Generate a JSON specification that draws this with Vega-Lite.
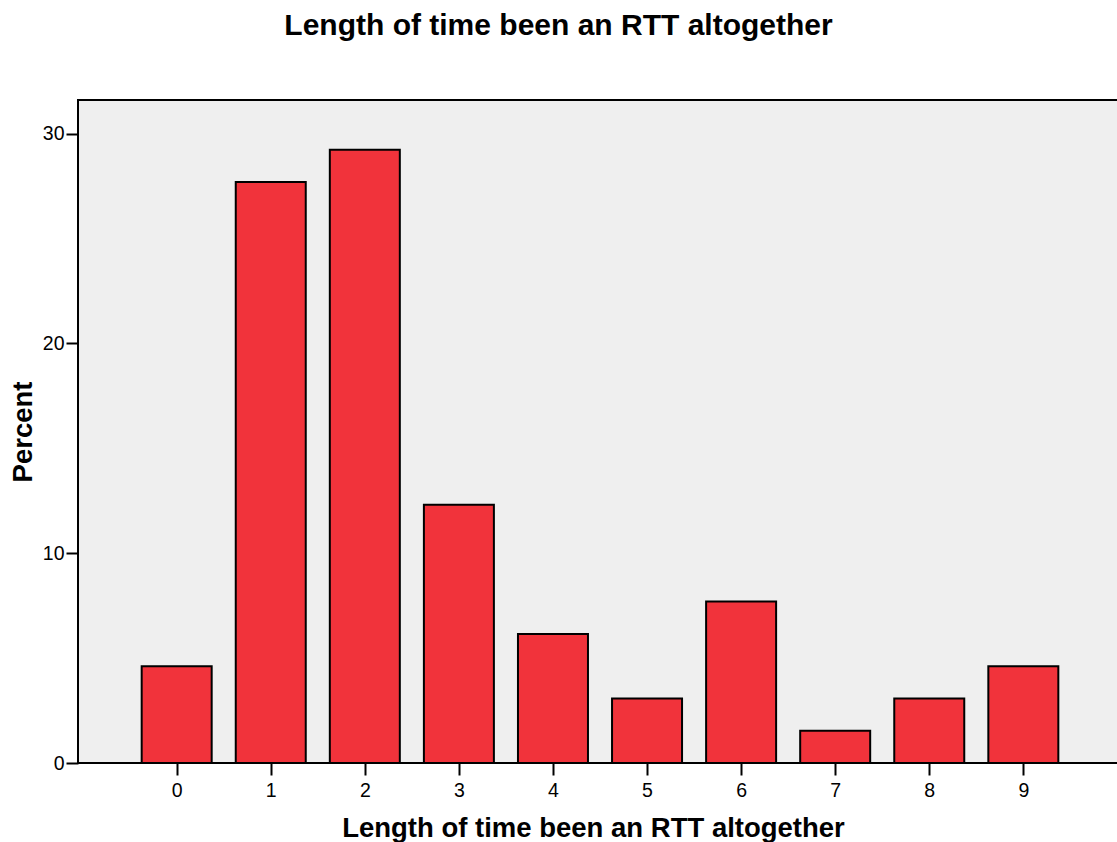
{
  "$schema": "https://vega.github.io/schema/vega-lite/v6.json",
  "width": 1041,
  "height": 663,
  "autosize": "none",
  "padding": {"left": 78, "top": 100, "right": 0, "bottom": 79},
  "background": "white",
  "title": {
    "text": "Length of time been an RTT altogether",
    "font": "Liberation Sans",
    "fontSize": 30,
    "fontWeight": "bold",
    "color": "black",
    "anchor": "middle",
    "dx": -40,
    "offset": 59
  },
  "config": {
    "view": {"fill": "#efefef", "stroke": "black", "strokeWidth": 2},
    "axis": {
      "labelFont": "Liberation Sans",
      "titleFont": "Liberation Sans",
      "labelColor": "black",
      "titleColor": "black",
      "tickColor": "black",
      "grid": false,
      "domain": false
    }
  },
  "data": {
    "values": [
      {"years": 0, "percent": 4.615},
      {"years": 1, "percent": 27.692},
      {"years": 2, "percent": 29.231},
      {"years": 3, "percent": 12.308},
      {"years": 4, "percent": 6.154},
      {"years": 5, "percent": 3.077},
      {"years": 6, "percent": 7.692},
      {"years": 7, "percent": 1.538},
      {"years": 8, "percent": 3.077},
      {"years": 9, "percent": 4.615}
    ]
  },
  "mark": {"type": "bar", "fill": "#f1333b", "stroke": "black", "strokeWidth": 2, "width": 70},
  "encoding": {
    "x": {
      "field": "years",
      "type": "quantitative",
      "scale": {"domain": [-1.049, 10.017], "nice": false, "zero": false, "padding": 0},
      "axis": {
        "values": [0, 1, 2, 3, 4, 5, 6, 7, 8, 9],
        "format": "d",
        "tickSize": 12,
        "tickWidth": 2,
        "labelFontSize": 19.5,
        "labelPadding": 6,
        "title": "Length of time been an RTT altogether",
        "titleFontSize": 27.5,
        "titleFontWeight": "bold",
        "titlePadding": 15,
        "titleX": 515
      }
    },
    "y": {
      "field": "percent",
      "type": "quantitative",
      "scale": {"domain": [0, 31.6], "nice": false, "padding": 0},
      "axis": {
        "values": [0, 10, 20, 30],
        "tickSize": 12,
        "tickWidth": 2,
        "labelFontSize": 19.5,
        "labelPadding": 2,
        "title": "Percent",
        "titleFontSize": 27.5,
        "titleFontWeight": "bold",
        "titlePadding": 5
      }
    }
  }
}
